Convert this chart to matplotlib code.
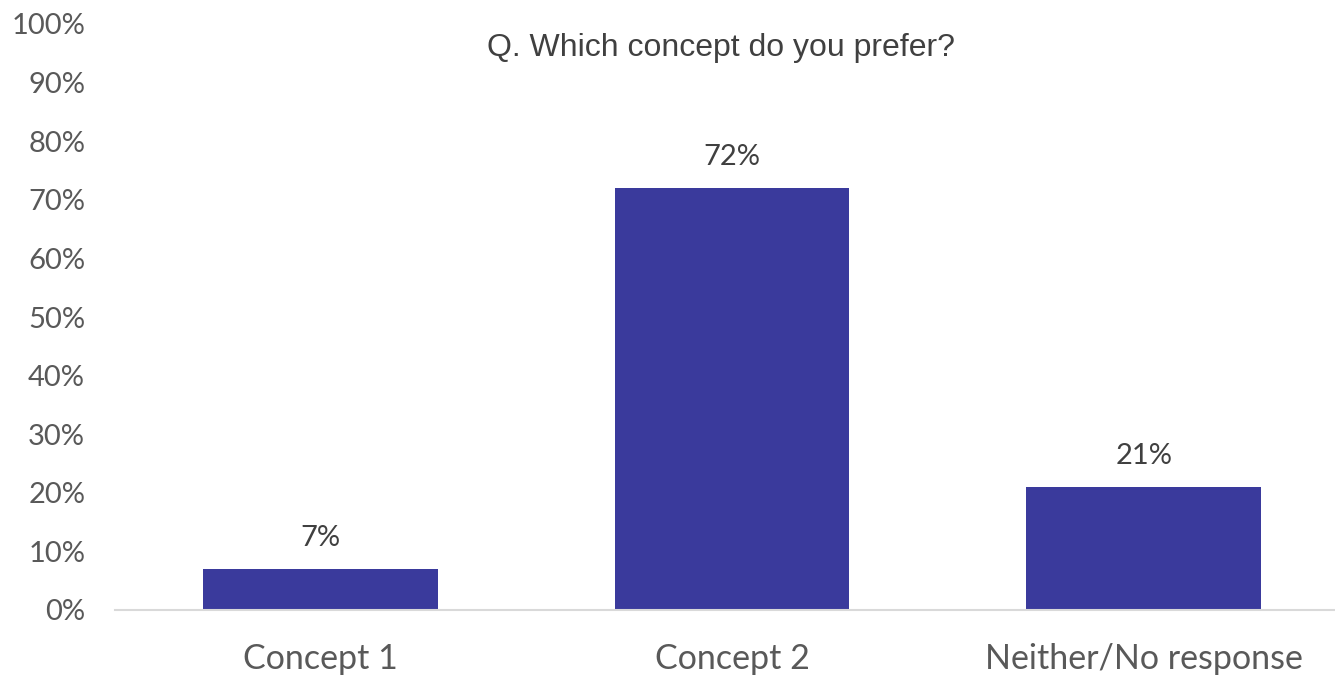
import matplotlib
matplotlib.use("Agg")
import matplotlib.pyplot as plt
from matplotlib.ticker import PercentFormatter

categories = ["Concept 1", "Concept 2", "Neither/No response"]
values = [7, 72, 21]
yticks = list(range(0, 101, 10))

bar_color = "#3A3A9C"
label_font = ["Lato", "DejaVu Sans"]

fig = plt.figure(figsize=(13.35, 6.77), dpi=100)
ax = fig.add_axes([115 / 1335, 67 / 677, 1220 / 1335, 586 / 677])

x = range(len(categories))
bars = ax.bar(x, values, width=0.57, color=bar_color, zorder=2)

ax.set_xlim(-0.5, 2.465)
ax.set_ylim(0, 100)
ax.set_yticks(yticks)
ax.yaxis.set_major_formatter(PercentFormatter(decimals=0))
ax.set_xticks(list(x))
ax.set_xticklabels(categories)

for lab in ax.get_yticklabels():
    lab.set_fontfamily(label_font)
    lab.set_fontsize(21)
    lab.set_color("#595959")
for lab in ax.get_xticklabels():
    lab.set_fontfamily(label_font)
    lab.set_fontsize(24.5)
    lab.set_color("#595959")

ax.tick_params(axis="y", length=0, pad=21.5)
ax.tick_params(axis="x", length=0, pad=24)

for side in ["top", "right", "left"]:
    ax.spines[side].set_visible(False)
ax.spines["bottom"].set_color("#D9D9D9")
ax.spines["bottom"].set_linewidth(1.5)

for rect, v in zip(bars, values):
    ax.annotate(f"{v}%", (rect.get_x() + rect.get_width() / 2, v),
                xytext=(0, 13), textcoords="offset points",
                ha="center", va="bottom", fontsize=21,
                fontfamily=label_font, color="#404040")

fig.text(721 / 1335, 1 - 48 / 677, "Q. Which concept do you prefer?",
         ha="center", va="center", fontsize=23,
         fontfamily=["Liberation Sans", "DejaVu Sans"], color="#404040")

fig.savefig("out.png", dpi=100)
